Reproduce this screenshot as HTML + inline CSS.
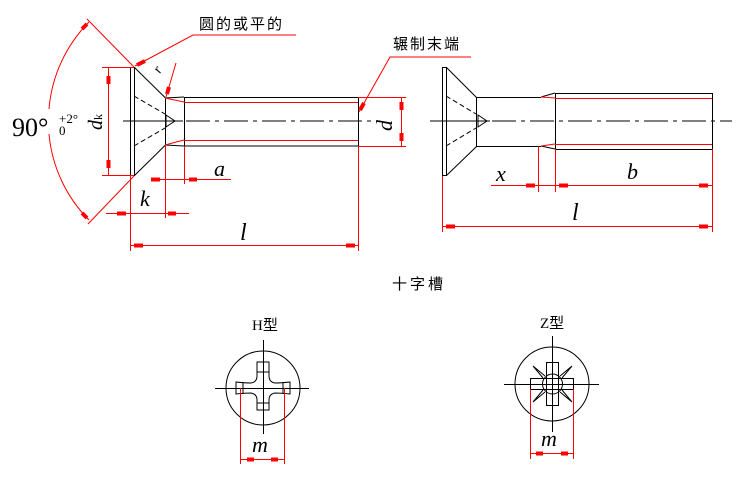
<!DOCTYPE html>
<html><head><meta charset="utf-8"><style>
html,body{margin:0;padding:0;background:#fff;}
svg{display:block;}
.k{stroke:#000;stroke-width:1;fill:none;}
.r{stroke:#f00;stroke-width:1;fill:none;}
.a{stroke:#f00;stroke-width:4;}
.t{font-family:"Liberation Serif",serif;font-style:italic;fill:#000;}
.c{font-family:"Liberation Sans","Noto Sans CJK SC",sans-serif;fill:#000;font-size:15px;}
</style></head><body>
<svg width="743" height="477" viewBox="0 0 743 477" xmlns="http://www.w3.org/2000/svg">
<!-- LEFT SCREW -->
<line class="k" x1="123" y1="121" x2="183" y2="121"/>
<line class="k" x1="186" y1="121" x2="380" y2="121" stroke-dasharray="24,5,4,5"/>
<rect class="k" x="130.5" y="67.5" width="4" height="108"/>
<polyline class="k" points="134.5,67.5 165.5,98 165.5,145 134.5,175.5"/>
<line class="k" x1="134" y1="96" x2="165" y2="114" stroke-dasharray="5,3"/>
<line class="k" x1="134" y1="146" x2="165" y2="128" stroke-dasharray="5,3"/>
<polygon class="k" points="166,115 175,121 166,127"/>
<line class="k" x1="165" y1="98" x2="184" y2="97"/>
<line class="k" x1="165" y1="145" x2="184" y2="146"/>
<line class="r" x1="165" y1="98" x2="184" y2="102"/>
<line class="r" x1="165" y1="145" x2="184" y2="140"/>
<rect class="k" x="184.5" y="97.5" width="174" height="48.5"/>
<line class="r" x1="184" y1="102.5" x2="358" y2="102.5"/>
<line class="r" x1="184" y1="140.5" x2="358" y2="140.5"/>
<!-- dk -->
<line class="r" x1="102" y1="67.5" x2="134" y2="67.5"/>
<line class="r" x1="102" y1="175.5" x2="134" y2="175.5"/>
<line class="r" x1="108.5" y1="67" x2="108.5" y2="175"/>
<line class="a" x1="108.5" y1="76" x2="108.5" y2="84"/>
<line class="a" x1="108.5" y1="160" x2="108.5" y2="168"/>
<text class="t" font-size="20" transform="translate(102,130) rotate(-90)">d<tspan font-size="12" font-style="normal">k</tspan></text>
<!-- 90 deg -->
<line class="r" x1="87" y1="19" x2="134" y2="67"/>
<line class="r" x1="88" y1="224" x2="134" y2="176"/>
<path class="r" d="M89,22 A140,140 0 0 0 49,109" />
<path class="r" d="M49,134 A140,140 0 0 0 89,220" />
<line class="a" x1="82" y1="29" x2="87" y2="24"/>
<line class="a" x1="82" y1="213" x2="87" y2="218"/>
<text x="12" y="136" font-family="Liberation Serif,serif" font-size="26">90°</text>
<text x="59" y="123" font-family="Liberation Serif,serif" font-size="13">+2°</text>
<text x="59" y="135" font-family="Liberation Serif,serif" font-size="13">0</text>
<!-- leader 圆的或平的 -->
<polyline class="r" points="135,66 193,35 296,35"/>
<line class="a" x1="137" y1="65" x2="145" y2="61"/>
<text class="c" x="199" y="29" letter-spacing="2">圆的或平的</text>
<!-- r -->
<line class="r" x1="176" y1="63" x2="166" y2="97"/>
<line class="a" x1="167" y1="94" x2="169" y2="87"/>
<text class="t" font-size="14" transform="translate(160,74) rotate(-60)">r</text>
<!-- a -->
<line class="r" x1="184.5" y1="146" x2="184.5" y2="184"/>
<line class="r" x1="165.5" y1="146" x2="165.5" y2="218"/>
<line class="r" x1="152" y1="179.5" x2="231" y2="179.5"/>
<line class="a" x1="151" y1="179.5" x2="160" y2="179.5"/>
<line class="a" x1="189" y1="179.5" x2="197" y2="179.5"/>
<text class="t" font-size="22" x="214" y="176">a</text>
<!-- k -->
<line class="r" x1="130.5" y1="176" x2="130.5" y2="251"/>
<line class="r" x1="106" y1="213.5" x2="189" y2="213.5"/>
<line class="a" x1="117" y1="213.5" x2="126" y2="213.5"/>
<line class="a" x1="168" y1="213.5" x2="176" y2="213.5"/>
<text class="t" font-size="22" x="140" y="206">k</text>
<!-- l -->
<line class="r" x1="358.5" y1="146" x2="358.5" y2="251"/>
<line class="r" x1="130" y1="245.5" x2="358" y2="245.5"/>
<line class="a" x1="134" y1="245.5" x2="143" y2="245.5"/>
<line class="a" x1="346" y1="245.5" x2="355" y2="245.5"/>
<text class="t" font-size="24" x="240" y="240">l</text>
<!-- d -->
<line class="r" x1="358" y1="97.5" x2="406" y2="97.5"/>
<line class="r" x1="358" y1="146.5" x2="406" y2="146.5"/>
<line class="r" x1="401.5" y1="97" x2="401.5" y2="146"/>
<line class="a" x1="401.5" y1="102" x2="401.5" y2="110"/>
<line class="a" x1="401.5" y1="133" x2="401.5" y2="141"/>
<text class="t" font-size="22" transform="translate(392,131) rotate(-90)">d</text>
<!-- leader 辗制末端 -->
<polyline class="r" points="359,112 390,57 471,57"/>
<line class="a" x1="360" y1="110" x2="364" y2="103"/>
<text class="c" x="393" y="49" letter-spacing="2">辗制末端</text>
<!-- RIGHT SCREW -->
<line class="k" x1="430" y1="121" x2="490" y2="121"/>
<line class="k" x1="492" y1="121" x2="732" y2="121" stroke-dasharray="24,5,4,5"/>
<rect class="k" x="442.5" y="67.5" width="4" height="108"/>
<polyline class="k" points="446.5,67.5 476.5,97.5 476.5,146.5 446.5,175.5"/>
<line class="k" x1="446" y1="96" x2="476" y2="114" stroke-dasharray="5,3"/>
<line class="k" x1="446" y1="146" x2="476" y2="128" stroke-dasharray="5,3"/>
<polygon class="k" points="478,115 487,121 478,127"/>
<line class="k" x1="476" y1="97.5" x2="541" y2="97.5"/>
<line class="k" x1="476" y1="146.5" x2="541" y2="146.5"/>
<line class="k" x1="541" y1="97" x2="555" y2="93"/>
<line class="k" x1="541" y1="146" x2="555" y2="149"/>
<line class="r" x1="541" y1="97" x2="555" y2="98"/>
<line class="r" x1="541" y1="146" x2="555" y2="144"/>
<rect class="k" x="555.5" y="93.5" width="157" height="56"/>
<line class="r" x1="555" y1="98.5" x2="712" y2="98.5"/>
<line class="r" x1="555" y1="144.5" x2="712" y2="144.5"/>
<!-- x, b -->
<line class="r" x1="538.5" y1="146" x2="538.5" y2="192"/>
<line class="r" x1="555.5" y1="149" x2="555.5" y2="192"/>
<line class="r" x1="712.5" y1="149" x2="712.5" y2="232"/>
<line class="r" x1="442.5" y1="176" x2="442.5" y2="232"/>
<line class="r" x1="491" y1="185.5" x2="712" y2="185.5"/>
<line class="a" x1="526" y1="185.5" x2="535" y2="185.5"/>
<line class="a" x1="559" y1="185.5" x2="568" y2="185.5"/>
<line class="a" x1="699" y1="185.5" x2="708" y2="185.5"/>
<text class="t" font-size="22" x="496" y="181">x</text>
<text class="t" font-size="22" x="627" y="179">b</text>
<line class="r" x1="442" y1="226.5" x2="712" y2="226.5"/>
<line class="a" x1="446" y1="226.5" x2="455" y2="226.5"/>
<line class="a" x1="699" y1="226.5" x2="708" y2="226.5"/>
<text class="t" font-size="24" x="572" y="220">l</text>
<!-- 十字槽 -->
<text class="c" x="392" y="289" letter-spacing="3">十字槽</text>
<!-- H -->
<text x="252" y="330" font-family="Liberation Serif,Noto Sans CJK SC,serif" font-size="15">H型</text>
<circle class="k" cx="263" cy="388" r="37"/>
<line class="k" x1="215" y1="388.5" x2="309" y2="388.5"/>
<line class="k" x1="263.5" y1="340" x2="263.5" y2="434"/>
<path class="k" d="M257,362 V376 Q257,382 251,383 Q245,383 236,382 V394 Q245,393 251,393 Q257,394 257,400 V410 H269 V400 Q269,394 275,393 Q281,393 290,394 V382 Q281,383 275,383 Q269,382 269,376 V362 Z"/>
<line class="k" x1="257" y1="372" x2="269" y2="372"/>
<line class="k" x1="257" y1="403" x2="269" y2="403"/>
<line class="k" x1="243" y1="382" x2="243" y2="394"/>
<line class="k" x1="283" y1="382" x2="283" y2="394"/>
<line class="r" x1="240.5" y1="388" x2="240.5" y2="464"/>
<line class="r" x1="284.5" y1="388" x2="284.5" y2="464"/>
<line class="r" x1="240" y1="459.5" x2="284" y2="459.5"/>
<line class="a" x1="247" y1="459.5" x2="254" y2="459.5"/>
<line class="a" x1="271" y1="459.5" x2="278" y2="459.5"/>
<text class="t" font-size="22" x="252" y="452">m</text>
<!-- Z -->
<text x="540" y="328" font-family="Liberation Serif,Noto Sans CJK SC,serif" font-size="15">Z型</text>
<circle class="k" cx="552" cy="384" r="37"/>
<line class="k" x1="504" y1="384.5" x2="599" y2="384.5"/>
<line class="k" x1="552.5" y1="336" x2="552.5" y2="432"/>
<rect class="k" x="530.5" y="378.5" width="43" height="11" fill="#fff"/>
<rect class="k" x="546.5" y="362.5" width="12" height="43" fill="#fff"/>
<circle class="k" cx="552.5" cy="384" r="10"/>
<line class="k" x1="530" y1="384.5" x2="575" y2="384.5"/>
<line class="k" x1="552.5" y1="362" x2="552.5" y2="406"/>
<path class="k" d="M545,376 L533,366 L543,378 M560,376 L572,366 L562,378 M545,392 L533,402 L543,390 M560,392 L572,402 L562,390"/>
<line class="r" x1="530.5" y1="389" x2="530.5" y2="459"/>
<line class="r" x1="573.5" y1="389" x2="573.5" y2="459"/>
<line class="r" x1="530" y1="453.5" x2="573" y2="453.5"/>
<line class="a" x1="536" y1="453.5" x2="543" y2="453.5"/>
<line class="a" x1="561" y1="453.5" x2="568" y2="453.5"/>
<text class="t" font-size="22" x="541" y="446">m</text>
</svg>
</body></html>
